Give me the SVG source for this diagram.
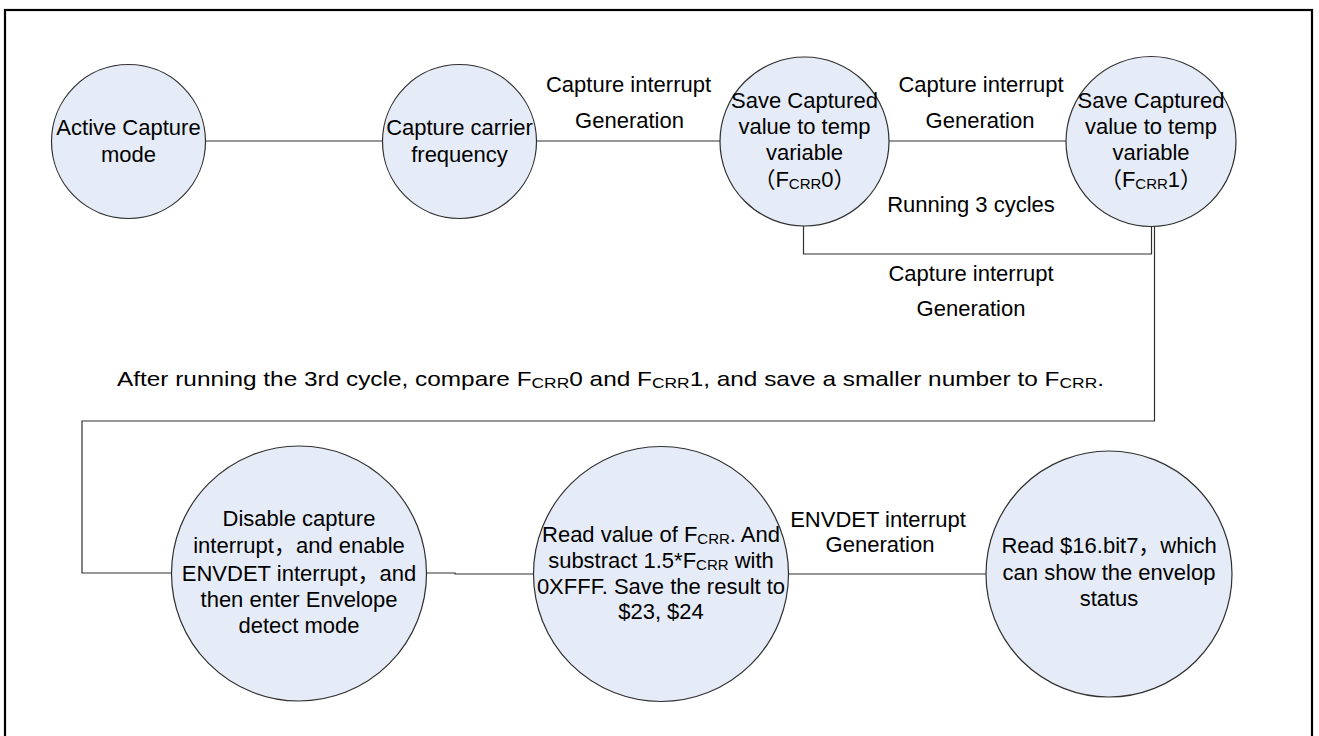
<svg xmlns="http://www.w3.org/2000/svg" width="1319" height="736" viewBox="0 0 1319 736">
  <style>
    text { font-family: "Liberation Sans", Arial, "Noto Sans CJK SC", sans-serif; fill: #000; }
    .node { fill: #E6ECF7; stroke: #303030; stroke-width: 1.2; }
    .t { font-size: 22px; text-anchor: middle; }
    .lbl { font-size: 22px; text-anchor: middle; }
    .sub { font-size: 15px; }
    .wire { fill: none; stroke: #303030; stroke-width: 1.2; }
  </style>
  <rect width="1319" height="736" fill="#fff"/>
  <!-- outer frame, bottom edge runs past the canvas -->
  <rect x="5" y="10" width="1307" height="740" fill="none" stroke="#000" stroke-width="2.2"/>

  <g id="connectors">
    <path class="wire" d="M205,141 H382"/>
    <path class="wire" d="M537,141 H720"/>
    <path class="wire" d="M889,141 H1066"/>
    <path class="wire" d="M803.5,226 V254 H1151.5 V226"/>
    <path class="wire" d="M1154.5,226 V421 H82 V573 H172"/>
    <path class="wire" d="M426,573 H455 V574 H534"/>
    <path class="wire" d="M788,574 H986"/>
  </g>

  <g id="edge-labels">
    <text class="lbl" x="628.5" y="92">Capture interrupt</text>
    <text class="lbl" x="629.5" y="128">Generation</text>
    <text class="lbl" x="981" y="92">Capture interrupt</text>
    <text class="lbl" x="980" y="128">Generation</text>
    <text class="lbl" x="971" y="212">Running 3 cycles</text>
    <text class="lbl" x="971" y="281">Capture interrupt</text>
    <text class="lbl" x="971" y="316">Generation</text>
    <text class="lbl" x="878" y="527">ENVDET interrupt</text>
    <text class="lbl" x="880" y="552">Generation</text>
    <text x="117" y="386" font-size="21" textLength="987" lengthAdjust="spacingAndGlyphs">After running the 3rd cycle, compare F<tspan class="sub" dy="2">CRR</tspan><tspan dy="-2">0 and F</tspan><tspan class="sub" dy="2">CRR</tspan><tspan dy="-2">1,  and save a smaller number to  F</tspan><tspan class="sub" dy="2">CRR</tspan><tspan dy="-2">.</tspan></text>
  </g>

  <g id="active-capture">
    <circle class="node" cx="128.5" cy="141.5" r="77"/>
    <text class="t" x="128.5" y="135">Active Capture</text>
    <text class="t" x="128.5" y="162">mode</text>
  </g>

  <g id="capture-carrier">
    <circle class="node" cx="459.5" cy="141.5" r="77"/>
    <text class="t" x="459.5" y="135">Capture carrier</text>
    <text class="t" x="459.5" y="162">frequency</text>
  </g>

  <g id="save-fcrr0">
    <circle class="node" cx="804.5" cy="141.5" r="84.5"/>
    <text class="t" x="804.5" y="108">Save Captured</text>
    <text class="t" x="804.5" y="134">value to temp</text>
    <text class="t" x="804.5" y="160">variable</text>
    <text class="t" x="804.5" y="187">（F<tspan class="sub" dy="2">CRR</tspan><tspan dy="-2">0）</tspan></text>
  </g>

  <g id="save-fcrr1">
    <circle class="node" cx="1151" cy="141.5" r="85"/>
    <text class="t" x="1151" y="108">Save Captured</text>
    <text class="t" x="1151" y="134">value to temp</text>
    <text class="t" x="1151" y="160">variable</text>
    <text class="t" x="1151" y="187">（F<tspan class="sub" dy="2">CRR</tspan><tspan dy="-2">1）</tspan></text>
  </g>

  <g id="envelope-mode">
    <circle class="node" cx="299" cy="573.5" r="127.5"/>
    <text class="t" x="299" y="526">Disable capture</text>
    <text class="t" x="299" y="553">interrupt，and enable</text>
    <text class="t" x="299" y="581">ENVDET interrupt，and</text>
    <text class="t" x="299" y="607">then enter Envelope</text>
    <text class="t" x="299" y="633">detect mode</text>
  </g>

  <g id="read-fcrr">
    <circle class="node" cx="661" cy="574" r="127.5"/>
    <text class="t" x="661" y="542">Read value of F<tspan class="sub" dy="2">CRR</tspan><tspan dy="-2">. And</tspan></text>
    <text class="t" x="661" y="568">substract 1.5*F<tspan class="sub" dy="2">CRR</tspan><tspan dy="-2"> with</tspan></text>
    <text class="t" x="661" y="594">0XFFF. Save the result to</text>
    <text class="t" x="661" y="619">$23, $24</text>
  </g>

  <g id="read-status">
    <circle class="node" cx="1109" cy="574" r="123"/>
    <text class="t" x="1109" y="553">Read $16.bit7，which</text>
    <text class="t" x="1109" y="580">can show the envelop</text>
    <text class="t" x="1109" y="606">status</text>
  </g>
</svg>
